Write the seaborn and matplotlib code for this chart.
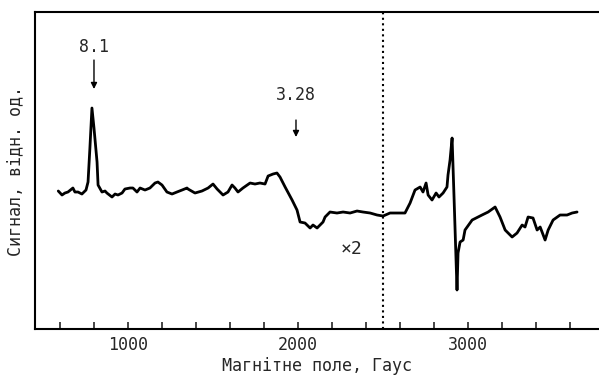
import seaborn as sns
import pandas as pd
from matplotlib import pyplot as plt
from matplotlib.ticker import MultipleLocator

sns.set_style("white")
plt.rcParams['font.family'] = ['DejaVu Sans Mono', 'DejaVu Sans']

# spectrum (field in Gauss, signal in arbitrary units)
field = [590, 612, 629, 647, 676, 688, 706, 729, 753, 765, 776, 788, 800, 818, 824,
         847, 865, 876, 906, 924, 941, 965, 982, 1012, 1029, 1053, 1071, 1100, 1129,
         1159, 1176, 1200, 1229, 1259, 1288, 1318, 1347, 1353, 1394, 1435, 1471, 1500,
         1524, 1559, 1588, 1612, 1629, 1647, 1676, 1718, 1747, 1776, 1806, 1824, 1853,
         1876, 1894, 1924, 1965, 1994, 2012, 2041, 2071, 2088, 2112, 2147, 2159, 2188,
         2229, 2265, 2306, 2347, 2382, 2424, 2465, 2500, 2541, 2600, 2629, 2659, 2688,
         2718, 2735, 2753, 2765, 2788, 2812, 2829, 2853, 2876, 2882, 2894, 2906, 2918,
         2935, 2941, 2953, 2971, 2982, 3024, 3082, 3118, 3159, 3188, 3218, 3259, 3288,
         3318, 3335, 3353, 3382, 3406, 3424, 3453, 3471, 3500, 3541, 3582, 3612, 3641]
signal = [138, 134, 136, 137, 141, 137, 137, 135, 139, 147, 181, 221, 201, 167, 144,
          137, 138, 136, 132, 135, 134, 136, 140, 141, 141, 137, 141, 139, 141, 146,
          147, 144, 137, 135, 137, 139, 141, 140, 136, 138, 141, 145, 140, 134, 137,
          144, 141, 137, 141, 146, 145, 146, 145, 153, 155, 156, 152, 142, 129, 119,
          107, 106, 101, 104, 101, 107, 112, 117, 116, 117, 116, 118, 117, 116, 114,
          113, 116, 116, 116, 126, 139, 142, 137, 146, 134, 129, 136, 132, 136, 142,
          154, 169, 191, 129, 39, 76, 87, 89, 99, 109, 114, 117, 122, 112, 99, 92,
          96, 104, 102, 112, 111, 99, 102, 89, 99, 109, 114, 114, 116, 117]

# peak labels: text, field position, text height, arrow start, arrow end
peak_labels = ['8.1', '3.28']
peak_fields = [800, 1988]
label_y = [282, 234]
arrow_from = [269, 209]
arrow_to = [240, 192]

df = pd.DataFrame({'field': field, 'signal': signal})

fig = plt.figure(figsize=(5.99, 3.76), dpi=100)
ax = fig.add_axes([0.0584, 0.125, 0.9416, 0.843])

sns.lineplot(x='field', y='signal', data=df, color='black', linewidth=2.0, ax=ax)

ax.axvline(2500, color='black', linestyle=':', linewidth=1.5)

for lab, fx, ty, a0, a1 in zip(peak_labels, peak_fields, label_y, arrow_from, arrow_to):
    ax.text(fx, ty, lab, ha='center', va='center', fontsize=12)
    ax.annotate('', xy=(fx, a1), xytext=(fx, a0),
                arrowprops=dict(arrowstyle='-|>', color='black', lw=1,
                                mutation_scale=9, shrinkA=0, shrinkB=0))
ax.text(2312, 80, '×2', ha='center', va='center', fontsize=13)

ax.set_xlim(453, 3770)
ax.set_ylim(0, 317)
ax.xaxis.set_major_locator(MultipleLocator(1000))
ax.xaxis.set_minor_locator(MultipleLocator(200))
ax.tick_params(axis='x', which='both', direction='in', length=5, width=1.2,
               bottom=True, labelsize=12, pad=5)
ax.set_yticks([])
ax.set_xticks([1000, 2000, 3000])

for side in ['left', 'bottom', 'top']:
    ax.spines[side].set_linewidth(1.5)
    ax.spines[side].set_color('black')
ax.spines['right'].set_visible(False)

ax.set_xlabel('Магнітне поле, Гаус', fontsize=12, labelpad=2)
ax.set_ylabel('Сигнал, відн. од.', fontsize=12, labelpad=8)

plt.savefig('out.png', dpi=100)
